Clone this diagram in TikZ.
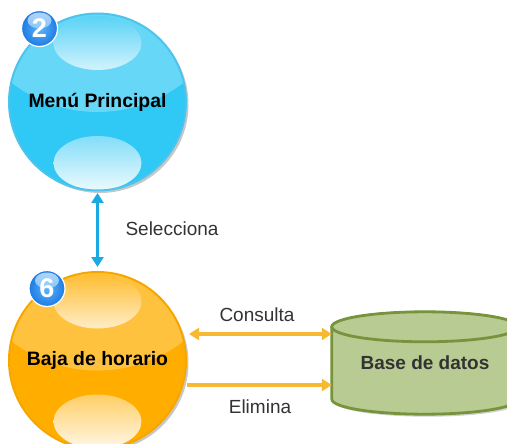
\documentclass[tikz,border=0pt]{standalone}
\usepackage{fontspec}
\setmainfont{Liberation Sans}
\usetikzlibrary{arrows.meta,shadings,shadows,calc}
\definecolor{bluemain}{HTML}{30C8F4}
\definecolor{blueup}{HTML}{66D7F7}
\definecolor{bluerim}{HTML}{4CC4EC}
\definecolor{orgmain}{HTML}{FFAE00}
\definecolor{orgup}{HTML}{FFC23E}
\definecolor{orgrim}{HTML}{F7A600}
\definecolor{arrblue}{HTML}{1AAAE2}
\definecolor{arrorg}{HTML}{F7B832}
\definecolor{dbfill}{HTML}{B7CB92}
\definecolor{dbline}{HTML}{77933C}
\definecolor{txt}{HTML}{333333}
\definecolor{badgein}{HTML}{5CB4FA}
\definecolor{badgeout}{HTML}{1E7BE3}
\newcommand\globedeco[2]{%
  \fill[#2] ($(path picture bounding box.center)+(0,-131)$) circle[radius=141];
  \shade[top color=#1!80!white, bottom color=#1!22!white]
    ($(path picture bounding box.center)+(0,-59)$) ellipse[x radius=44, y radius=27];
  \shade[top color=#1!60!white, bottom color=#1!10!white]
    ($(path picture bounding box.center)+(0,61)$) ellipse[x radius=44, y radius=27];
}
\newcommand\badgedeco{%
  \shade[top color=white!75!badgein, bottom color=badgein, opacity=0.8]
    ($(path picture bounding box.center)+(0,-8)$) ellipse[x radius=12, y radius=8];
}
\tikzset{
  globe/.style={circle, minimum size=177pt, inner sep=0pt, line width=2pt,
    font=\bfseries\fontsize{19.4}{23}\selectfont, text=black,
    drop shadow={shadow xshift=2.5pt, shadow yshift=-2.5pt, fill=black, opacity=0.22}},
  blueglobe/.style={globe, fill=bluemain, draw=bluerim,
    path picture={\globedeco{bluemain}{blueup}}},
  orgglobe/.style={globe, fill=orgmain, draw=orgrim,
    path picture={\globedeco{orgmain}{orgup}}},
  badgenode/.style={circle, minimum size=36pt, inner sep=0pt,
    inner color=badgein, outer color=badgeout, draw=white, line width=1.2pt, text=white,
    path picture={\badgedeco},
    font=\bfseries\fontsize{27}{27}\selectfont},
  lbl/.style={text=txt, font=\fontsize{19}{22}\selectfont},
  barrow/.style={draw=arrblue, line width=3.5pt,
    {Triangle[length=10pt,width=12pt]}-{Triangle[length=10pt,width=12pt]}},
  oarrow/.style={draw=arrorg, line width=3.5pt},
  cyl/.style={fill=dbfill, draw=dbline, line width=2.8pt}
}
\begin{document}
\begin{tikzpicture}[x=1pt,y=-1pt]
\useasboundingbox (0,0) rectangle (507,444);
\clip (0,0) rectangle (507,444);

% globes
\node[blueglobe] (menu) at (97.5,102) {Menú Principal};
\node[orgglobe] (baja) at (97.5,360.5) {Baja de horario};

% badges
\node[badgenode] (b2) at (39.5,28.5) {2};
\node[badgenode] (b6) at (47,288.5) {6};

% database
\node[minimum width=186pt, minimum height=102pt, inner sep=0pt] (db) at (425,363) {};
\coordinate (tl) at ($(db.north west)+(0,15)$);
\coordinate (bl) at ($(db.south west)+(0,-15)$);
\fill[black, opacity=0.18] ($(tl)+(2.5,2.5)$) -- ($(bl)+(2.5,2.5)$)
  arc[start angle=180, end angle=0, x radius=93, y radius=15] -- ++(0,-72)
  arc[start angle=0, end angle=-180, x radius=93, y radius=15] -- cycle;
\filldraw[cyl] (tl) -- (bl)
  arc[start angle=180, end angle=0, x radius=93, y radius=15] -- ++(0,-72)
  arc[start angle=0, end angle=-180, x radius=93, y radius=15] -- cycle;
\filldraw[cyl] ($(tl)+(93,0)$) ellipse[x radius=93, y radius=15];
\node[text=txt, font=\bfseries\fontsize{19}{22}\selectfont] (dbl) at (db.center) {Base de datos};

% connectors
\draw[barrow, shorten <=1.5pt, shorten >=4pt] (menu.south) -- (baja.north);
\node[lbl] (sel) at (172,229) {Selecciona};

\coordinate (c1) at (0,334);
\coordinate (c2) at (0,385);
\draw[oarrow, {Triangle[length=10pt,width=12pt]}-{Triangle[length=10pt,width=12pt]}, shorten <=2pt]
  (baja.east |- c1) -- (db.west |- c1);
\draw[oarrow, -{Triangle[length=10pt,width=12pt]}]
  (baja.east |- c2) -- (db.west |- c2);
\node[lbl] (cons) at (257,315) {Consulta};
\node[lbl] (elim) at (260,407) {Elimina};
\end{tikzpicture}
\end{document}
